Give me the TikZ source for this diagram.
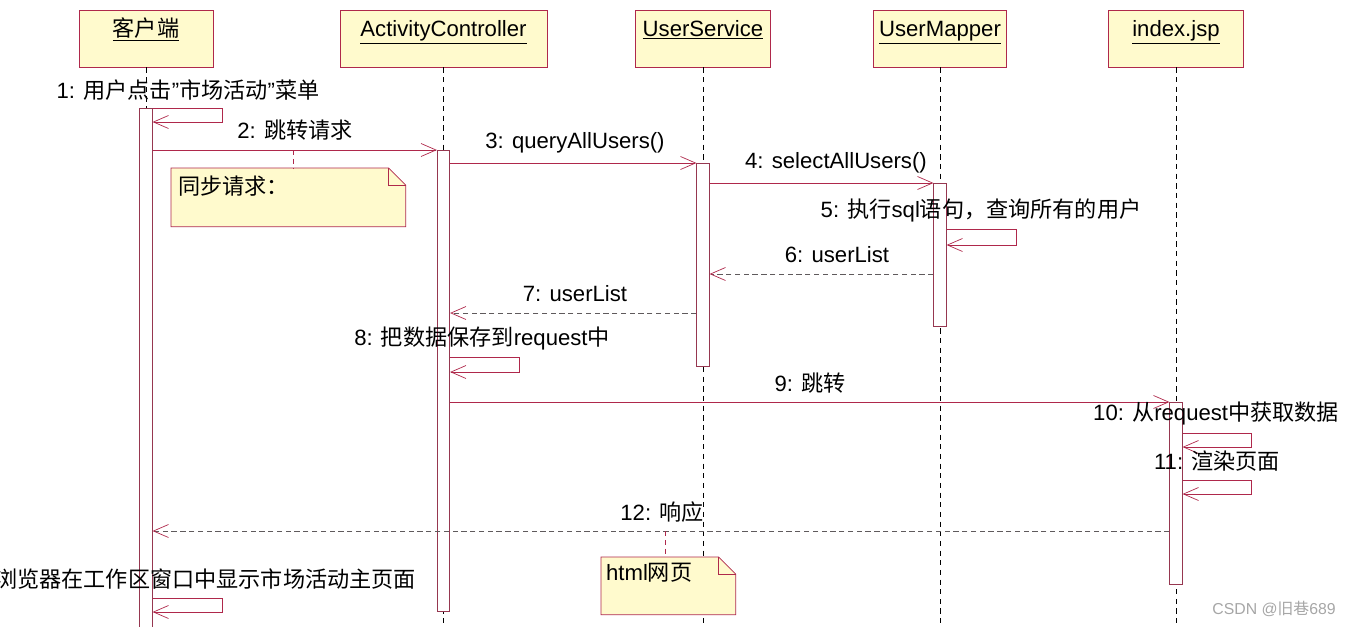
\documentclass[tikz,border=0pt]{standalone}
\usepackage{fontspec}
\setmainfont{Liberation Sans}
\newfontfamily\cjk{Noto Sans CJK SC}
\newcommand{\zh}[1]{{\cjk #1}}
\usetikzlibrary{arrows.meta}
\definecolor{boxfill}{RGB}{255,250,205}
\definecolor{umlred}{RGB}{175,40,75}
\definecolor{bardark}{RGB}{150,55,80}
\definecolor{replygray}{RGB}{95,90,92}

\begin{document}
\begin{tikzpicture}[x=0.02cm,y=-0.02cm,font=\fontsize{12.6}{14}\selectfont]
	\tikzset{objbox/.style={draw=umlred,fill=boxfill,inner sep=0pt,minimum height=1.14cm,text height=0.52cm,text depth=0.62cm}}
	\tikzset{lifeline/.style={black,thin,dash pattern=on 3pt off 2.5pt}}
	\tikzset{actbar/.style={draw=bardark,fill=white,anchor=north,minimum width=0.25cm,inner sep=0pt}}
	\tikzset{msg/.style={umlred,thin,-{Straight Barb[length=0.3cm,width=0.26cm]}}}
	\tikzset{reply/.style={replygray,thin,dash pattern=on 3pt off 2pt,-{Straight Barb[length=0.3cm,width=0.26cm,color=umlred]}}}
	\tikzset{lbl/.style={inner sep=1pt}}
	\tikzset{notebox/.style={draw=umlred,fill=boxfill}}
	\useasboundingbox (0,0) rectangle (1345,626);
	% objects
	\node[objbox,minimum width=2.68cm] (cli) at (146,38.5) {\underline{\zh{客户端}}};
	\node[objbox,minimum width=4.14cm] (ctl) at (443.5,38.5) {\underline{ActivityController}};
	\node[objbox,minimum width=2.7cm] (svc) at (703,38.5) {\underline{UserService}};
	\node[objbox,minimum width=2.66cm] (map) at (940,38.5) {\underline{UserMapper}};
	\node[objbox,minimum width=2.7cm] (jsp) at (1176,38.5) {\underline{index.jsp}};
	\foreach \o in {cli,ctl,svc,map,jsp}
		\draw[lifeline] (\o.south) -- (\o.south |- 0,640);
	% activations
	\node[actbar,minimum height=10.64cm] (b1) at (cli.south |- 0,108) {};
	\node[actbar,minimum height=9.22cm] (b2) at (ctl.south |- 0,150) {};
	\node[actbar,minimum height=4.06cm] (b3) at (svc.south |- 0,163) {};
	\node[actbar,minimum height=2.86cm] (b4) at (map.south |- 0,183) {};
	\node[actbar,minimum height=3.64cm] (b5) at (jsp.south |- 0,402) {};
	% messages
	\node[lbl] (l1) at (188,90) {1: \zh{用户点击}"\zh{市场活动}"\zh{菜单}};
	\draw[msg] (b1.east |- 0,108) -- ++(70,0) -- ++(0,14) -- (b1.east |- 0,122);
	\node[lbl] (l2) at (295,130) {2: \zh{跳转请求}};
	\draw[msg] (b1.east |- 0,150) -- (b2.west |- 0,150);
	\node[lbl] (l3) at (575,143) {3: queryAllUsers()};
	\draw[msg] (b2.east |- 0,163) -- (b3.west |- 0,163);
	\node[lbl] (l4) at (836,163) {4: selectAllUsers()};
	\draw[msg] (b3.east |- 0,183) -- (b4.west |- 0,183);
	\node[lbl] (l5) at (981,210) {5: \zh{执行}sql\zh{语句，查询所有的用户}};
	\draw[msg] (b4.east |- 0,229) -- ++(70,0) -- ++(0,16) -- (b4.east |- 0,245);
	\node[lbl] (l6) at (837,255) {6: userList};
	\draw[reply] (b4.west |- 0,274) -- (b3.east |- 0,274);
	\node[lbl] (l7) at (575,294) {7: userList};
	\draw[reply] (b3.west |- 0,313) -- (b2.east |- 0,313);
	\node[lbl] (l8) at (482,338) {8: \zh{把数据保存到}request\zh{中}};
	\draw[msg] (b2.east |- 0,357) -- ++(69,0) -- ++(0,15) -- (b2.east |- 0,372);
	\node[lbl] (l9) at (810,383) {9: \zh{跳转}};
	\draw[msg] (b2.east |- 0,402) -- (b5.west |- 0,402);
	\node[lbl] (l10) at (1216,413) {10: \zh{从}request\zh{中获取数据}};
	\draw[msg] (b5.east |- 0,433) -- ++(69,0) -- ++(0,14) -- (b5.east |- 0,447);
	\node[lbl] (l11) at (1217,461) {11: \zh{渲染页面}};
	\draw[msg] (b5.east |- 0,480) -- ++(69,0) -- ++(0,14) -- (b5.east |- 0,494);
	\node[lbl] (l12) at (662,512) {12: \zh{响应}};
	\draw[reply] (b5.west |- 0,531) -- (b1.east |- 0,531);
	\node[lbl,anchor=east] (l13) at (418,579) {\zh{浏览器在工作区窗口中显示市场活动主页面}};
	\draw[msg] (b1.east |- 0,598) -- ++(70,0) -- ++(0,14) -- (b1.east |- 0,612);
	% notes
	\coordinate (c2) at (293,150);
	\node[minimum width=4.68cm,minimum height=1.16cm,anchor=north west] (n1) at (171,168) {};
	\draw[notebox] (n1.north west) -- ([xshift=-0.34cm]n1.north east) -- ([yshift=-0.34cm]n1.north east) -- (n1.south east) -- (n1.south west) -- cycle;
	\draw[umlred] ([xshift=-0.34cm]n1.north east) |- ([yshift=-0.34cm]n1.north east);
	\node[lbl,anchor=west] (t1) at (176,186) {\zh{同步请求：}};
	\draw[umlred,dash pattern=on 3pt off 2pt] (c2) -- (c2 |- n1.north);
	\coordinate (c12) at (665,531);
	\node[minimum width=2.68cm,minimum height=1.14cm,anchor=north west] (n2) at (601,557) {};
	\draw[notebox] (n2.north west) -- ([xshift=-0.34cm]n2.north east) -- ([yshift=-0.34cm]n2.north east) -- (n2.south east) -- (n2.south west) -- cycle;
	\draw[umlred] ([xshift=-0.34cm]n2.north east) |- ([yshift=-0.34cm]n2.north east);
	\node[lbl,anchor=west] (t2) at (604,573) {html\zh{网页}};
	\draw[umlred,dash pattern=on 3pt off 2pt] (c12) -- (c12 |- n2.north);
	\node[gray!70,font=\fontsize{9}{10}\selectfont] (wm) at (1274,609) {CSDN @\zh{旧巷}689};
\end{tikzpicture}
\end{document}
